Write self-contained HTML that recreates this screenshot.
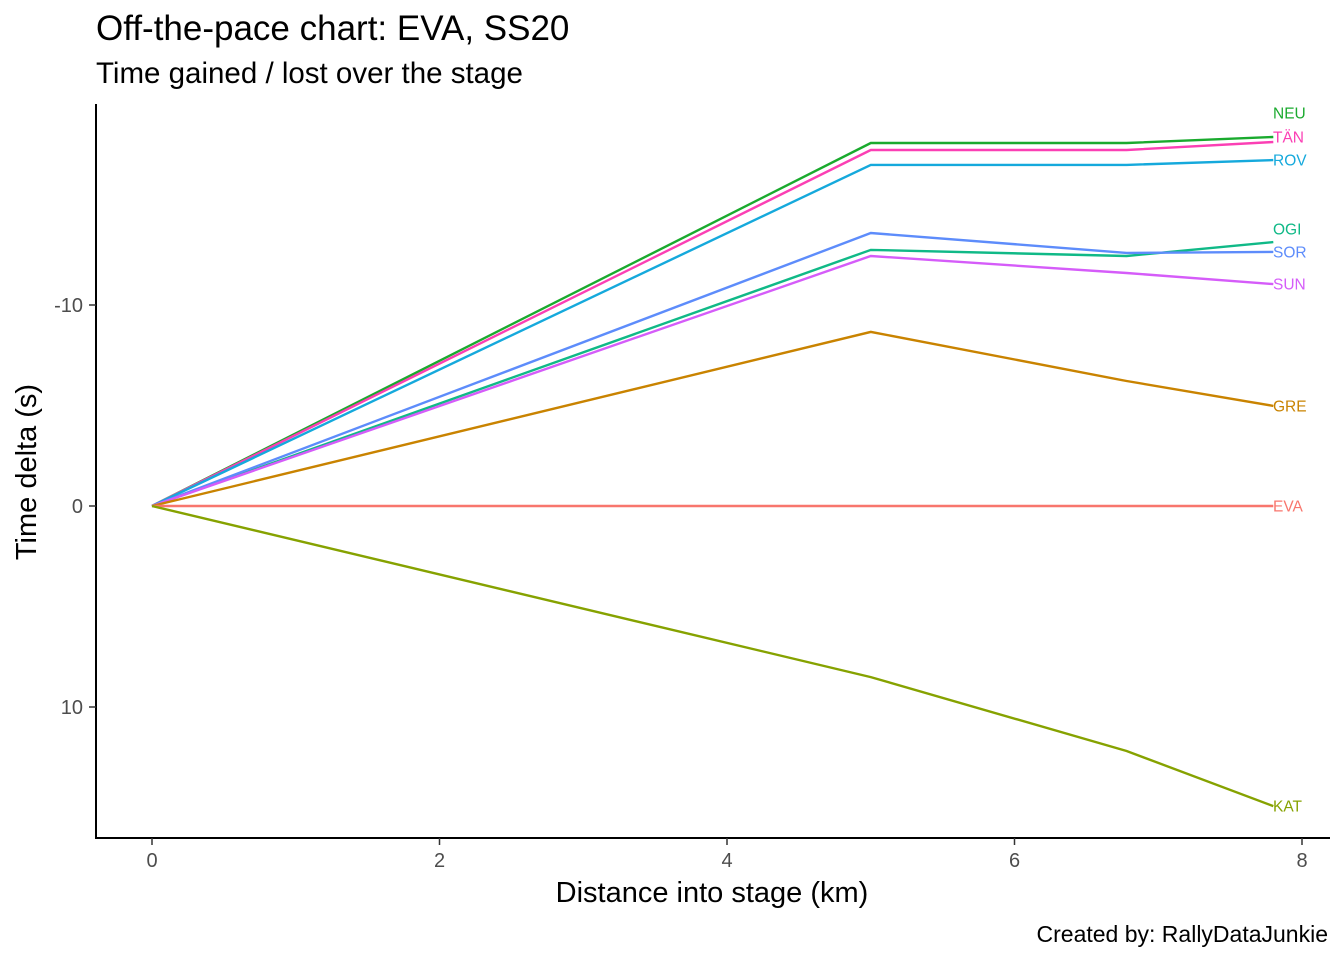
<!DOCTYPE html>
<html><head><meta charset="utf-8"><style>
html,body{margin:0;padding:0;background:#fff;}
svg text{font-family:"Liberation Sans",Arial,sans-serif;}
</style></head><body>
<svg id="chart" width="1344" height="960" xmlns="http://www.w3.org/2000/svg">
<text x="96" y="40" font-size="35" fill="#000">Off-the-pace chart: EVA, SS20</text>
<text x="96" y="83" font-size="29.5" fill="#000">Time gained / lost over the stage</text>
<text x="1328" y="942" font-size="23" fill="#000" text-anchor="end">Created by: RallyDataJunkie</text>
<text x="712" y="902" font-size="29" fill="#000" text-anchor="middle">Distance into stage (km)</text>
<text transform="translate(36,472) rotate(-90)" font-size="29" fill="#000" text-anchor="middle">Time delta (s)</text>
<g id="axes"></g>
<g id="lines"></g>
<g id="labels"></g>
</svg>
<script>
const distances = [0, 5, 6.78, 7.8];
const drivers = ["NEU","TÄN","ROV","OGI","SOR","SUN","GRE","EVA","KAT"];
const colors = ["#1aaa2e","#fb3fb4","#15a9dc","#10b987","#5d8cfb","#d55cf9","#c98300","#f8766d","#86a200"];
const deltaNEU = [0, -18.06, -18.06, -18.36];
const deltaTAN = [0, -17.71, -17.71, -18.11];
const deltaROV = [0, -16.97, -16.97, -17.21];
const deltaOGI = [0, -12.74, -12.44, -13.13];
const deltaSOR = [0, -13.58, -12.59, -12.64];
const deltaSUN = [0, -12.44, -11.59, -11.04];
const deltaGRE = [0, -8.66, -6.22, -4.98];
const deltaEVA = [0, 0, 0, 0];
const deltaKAT = [0, 8.51, 12.19, 14.93];
const labelDeltas = [-19.55, -18.36, -17.21, -13.78, -12.64, -11.04, -4.98, 0, 14.93];
const xTicks = [0, 2, 4, 6, 8];
const yTicks = [-10, 0, 10];
const series = [deltaNEU,deltaTAN,deltaROV,deltaOGI,deltaSOR,deltaSUN,deltaGRE,deltaEVA,deltaKAT];

const NS = "http://www.w3.org/2000/svg";
const xs = v => 152 + v * 143.75;
const ys = v => 506 + v * 20.1;
function mk(tag, attrs, parent){const e=document.createElementNS(NS,tag);for(const k in attrs)e.setAttribute(k,attrs[k]);parent.appendChild(e);return e;}
const axes=document.getElementById('axes'), lines=document.getElementById('lines'), labels=document.getElementById('labels');
let e;
e=mk('line',{x1:96,y1:104,x2:96,y2:839,stroke:'#000','stroke-width':2},axes);


e=mk('line',{x1:95,y1:838,x2:1330,y2:838,stroke:'#000','stroke-width':2},axes);


xTicks.forEach(t=>{
  e=mk('line',{x1:xs(t),y1:838,x2:xs(t),y2:845,stroke:'#333','stroke-width':1.5},axes);
  
  
  e=mk('text',{x:xs(t),y:867,'font-size':20,fill:'#4d4d4d','text-anchor':'middle'},axes);
  e.textContent=t;
  
  
});
yTicks.forEach(t=>{
  e=mk('line',{x1:89,y1:ys(t),x2:96,y2:ys(t),stroke:'#333','stroke-width':1.5},axes);
  
  
  e=mk('text',{x:83,y:ys(t)+7,'font-size':20,fill:'#4d4d4d','text-anchor':'end'},axes);
  e.textContent=t;
  
  
});
series.forEach((s,i)=>{
  const pts=s.map((v,j)=>xs(distances[j]).toFixed(1)+','+ys(v).toFixed(1)).join(' ');
  e=mk('polyline',{points:pts,fill:'none',stroke:colors[i],'stroke-width':2.4},lines);
  
  
  e=mk('text',{x:1273,y:ys(labelDeltas[i])+5.5,'font-size':15.5,fill:colors[i]},labels);
  e.textContent=drivers[i];
  
  
});
</script>
</body></html>
